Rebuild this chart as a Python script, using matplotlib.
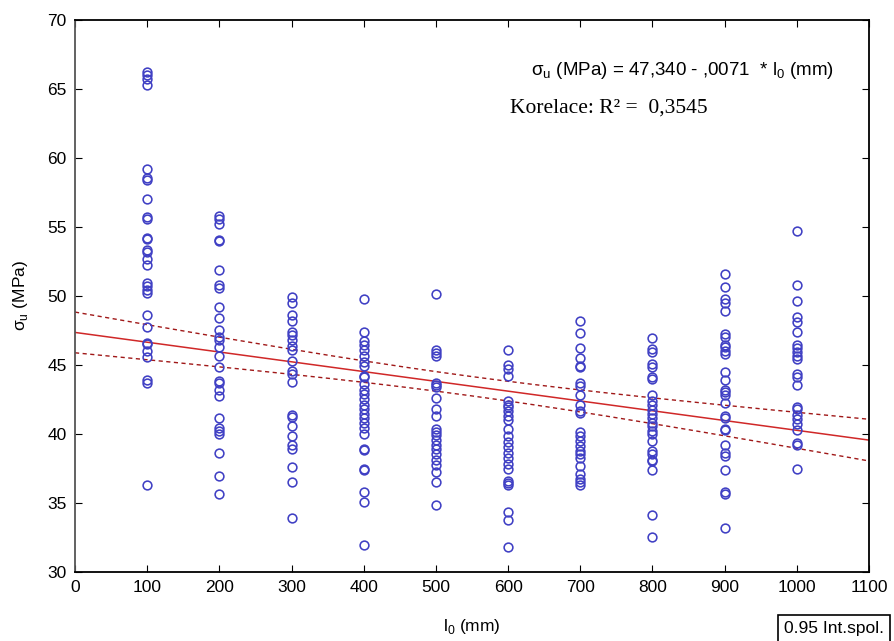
import matplotlib
matplotlib.use("Agg")
import matplotlib.pyplot as plt
import numpy as np

### DATA ###
lengths = [100, 200, 300, 400, 500, 600, 700, 800, 900, 1000]

s100 = [66.25, 66.0, 65.7, 65.3, 59.2, 58.55, 58.4, 57.05, 55.6, 55.7, 54.2, 54.1,
        53.35, 53.2, 52.7, 52.25, 50.9, 50.7, 50.4, 50.2, 48.6, 47.7, 46.6, 46.5,
        46.0, 45.55, 43.9, 43.7, 36.25]
s200 = [55.8, 55.55, 55.2, 54.05, 54.0, 51.9, 50.8, 50.55, 49.2, 48.4, 47.5, 47.0,
        46.8, 46.25, 45.6, 44.8, 43.85, 43.7, 43.2, 42.7, 41.1, 40.4, 40.2, 40.0,
        38.6, 36.9, 35.6]
s300 = [49.9, 49.5, 48.6, 48.2, 47.35, 47.15, 46.8, 46.35, 46.1, 45.3, 44.55, 44.3,
        43.75, 41.35, 41.2, 40.55, 39.8, 39.2, 38.9, 37.6, 36.5, 33.9]
s400 = [49.8, 47.4, 46.7, 46.4, 46.1, 45.6, 45.2, 44.9, 44.2, 44.1, 43.6, 43.2,
        42.9, 42.5, 42.1, 41.8, 41.4, 41.1, 40.75, 40.4, 40.0, 38.9, 38.8, 37.45,
        37.35, 35.75, 35.05, 31.95]
s500 = [50.1, 46.05, 45.85, 45.6, 43.7, 43.5, 43.35, 42.55, 41.8, 41.3, 40.3, 40.1,
        39.9, 39.55, 39.2, 38.85, 38.5, 38.1, 37.7, 37.2, 36.5, 34.8]
s600 = [46.1, 45.0, 44.7, 44.2, 42.4, 42.1, 41.9, 41.65, 41.3, 41.0, 40.3, 39.8,
        39.4, 39.0, 38.6, 38.25, 37.8, 37.4, 36.6, 36.4, 36.25, 34.3, 33.7, 31.8]
s700 = [48.2, 47.3, 46.2, 45.45, 44.9, 44.8, 43.65, 43.45, 42.8, 42.1, 41.65, 41.5,
        40.1, 39.8, 39.45, 39.1, 38.75, 38.5, 38.2, 37.65, 37.1, 36.7, 36.5, 36.3]
s800 = [46.9, 46.15, 45.9, 45.05, 44.85, 44.1, 43.95, 42.8, 42.4, 42.1, 41.7, 41.4,
        41.1, 40.8, 40.55, 40.2, 39.95, 39.5, 38.75, 38.55, 38.1, 38.0, 37.35, 34.1,
        32.5]
s900 = [51.55, 50.6, 49.8, 49.5, 48.9, 47.2, 47.0, 46.45, 46.25, 46.0, 45.8, 44.45,
        43.9, 43.15, 43.0, 42.8, 42.25, 41.3, 41.15, 40.35, 40.25, 39.2, 38.6, 38.4,
        37.35, 35.8, 35.65, 33.15]
s1000 = [54.7, 50.8, 49.65, 48.45, 48.1, 47.35, 46.45, 46.2, 45.9, 45.65, 45.4,
         44.35, 44.1, 43.55, 41.95, 41.8, 41.35, 41.05, 40.7, 40.25, 39.35, 39.2, 37.4]

columns = [s100, s200, s300, s400, s500, s600, s700, s800, s900, s1000]

# regression from the chart text: sigma_u = 47.340 - 0.0071 * l0
intercept = 47.340
slope = -0.0071
t_95 = 1.97

xticks = np.arange(0, 1101, 100)
yticks = np.arange(30, 71, 5)

### FONTS ###
plt.rcParams['font.family'] = ['Liberation Sans', 'DejaVu Sans']

x = np.concatenate([[l] * len(c) for l, c in zip(lengths, columns)]).astype(float)
y = np.concatenate(columns)

# 95% confidence band of the fitted line
n = len(x)
resid = y - (intercept + slope * x)
s = np.sqrt(np.sum(resid ** 2) / (n - 2))
xbar = x.mean()
sxx = np.sum((x - xbar) ** 2)
xx = np.linspace(0, 1100, 200)
fit = intercept + slope * xx
half = t_95 * s * np.sqrt(1 / n + (xx - xbar) ** 2 / sxx)

fig = plt.figure(figsize=(8.95, 6.41), dpi=100)
ax = fig.add_axes([75 / 895, 1 - 571.5 / 641, (869 - 75) / 895, (571.5 - 20) / 641])

ax.plot(x, y, 'o', mfc='none', mec='#4040c4', mew=1.15, ms=6.3, zorder=3)
ax.plot(xx, fit, color='#d02828', lw=1.1, zorder=2)
ax.plot(xx, fit + half, color='#a01818', lw=1.0, ls=(0, (3, 2.5)), zorder=2)
ax.plot(xx, fit - half, color='#a01818', lw=1.0, ls=(0, (3, 2.5)), zorder=2)

ax.set_xlim(0, 1100)
ax.set_ylim(30, 70)
ax.set_xticks(xticks)
ax.set_yticks(yticks)
ax.tick_params(direction='in', top=True, right=True, length=5, labelsize=12.5, pad=6)
for sp in ax.spines.values():
    sp.set_linewidth(1.3)
ax.spines['left'].set_color('#555555')

ax.set_xlabel(r'l$_\mathregular{0}$ (mm)', fontsize=12.5, labelpad=16)
ax.set_ylabel(r'σ$_\mathregular{u}$ (MPa)', fontsize=12.5, labelpad=12)

ax.text(841, 66.35, r'σ$_\mathregular{u}$ (MPa) = 47,340 - ,0071  * l$_\mathregular{0}$ (mm)',
        ha='center', va='center', fontsize=13.5)
ax.text(603, 63.6, 'Korelace: R² =  0,3545', ha='left', va='center',
        fontsize=15.5, family='Liberation Serif')

fig.text(784 / 895, 12 / 641, '0.95 Int.spol.', ha='left', va='center', fontsize=12.5,
         bbox=dict(boxstyle='square,pad=0.35', fc='white', ec='black', lw=1.2))

fig.savefig('out.png', dpi=100)
